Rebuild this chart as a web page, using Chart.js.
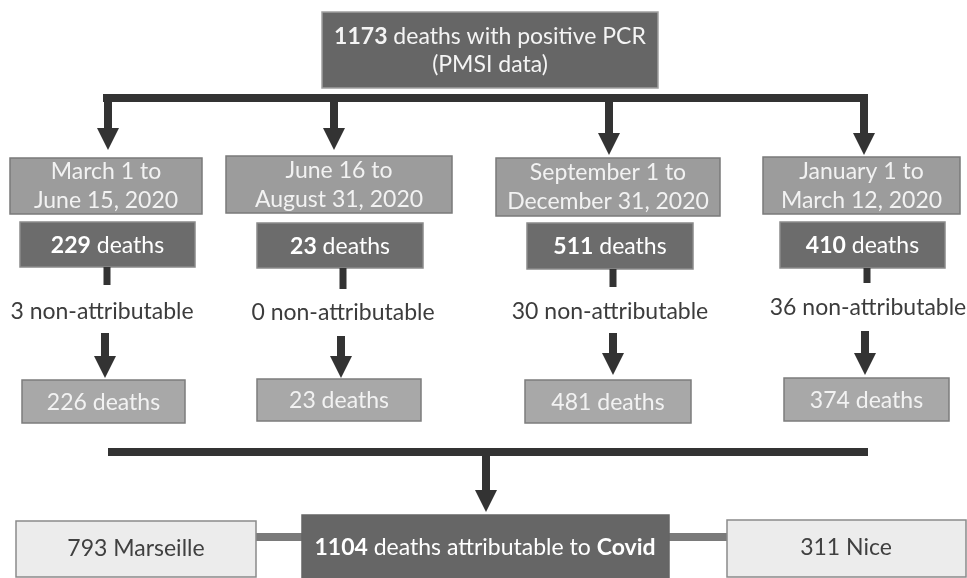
<!DOCTYPE html>
<html>
<head>
<meta charset="utf-8">
<script src="https://cdn.jsdelivr.net/npm/chart.js@4.4.1/dist/chart.umd.min.js"></script>
<style>
  html, body { margin: 0; padding: 0; background: #fff; }
  canvas { display: block; }
</style>
</head>
<body>
<canvas id="flow" width="967" height="578"></canvas>
<script>
// flowchart data
const totalPCR = 1173;
const periodStart = ['March 1 to', 'June 16 to', 'September 1 to', 'January 1 to'];
const periodEnd = ['June 15, 2020', 'August 31, 2020', 'December 31, 2020', 'March 12, 2020'];
const deaths = [229, 23, 511, 410];
const nonAttributable = [3, 0, 30, 36];
const attributable = [226, 23, 481, 374];
const totalAttributable = 1104;
const cities = ['Marseille', 'Nice'];
const cityDeaths = [793, 311];

// layout in picture units (rects are x1, y1, x2, y2)
const cols = [
  { x: 108, tip: 150, period: [10, 158, 202, 214], death: [20, 222, 195, 267], stub: [107, 267, 285], label: [102, 312], arrow: [105, 333, 378], result: [22, 380, 185, 423] },
  { x: 334, tip: 150, period: [226, 156, 452, 213], death: [257, 223, 423, 268], stub: [343, 268, 289], label: [343, 313], arrow: [341, 336, 378], result: [257, 379, 421, 421] },
  { x: 609, tip: 155, period: [496, 158, 720, 216], death: [527, 223, 693, 269], stub: [613, 269, 287], label: [610, 312], arrow: [613, 333, 375], result: [525, 380, 691, 423] },
  { x: 864, tip: 155, period: [763, 157, 960, 214], death: [780, 222, 945, 268], stub: [867, 268, 283], label: [868, 308], arrow: [865, 331, 375], result: [784, 378, 949, 421] }
];

const FONT = 'Lato, "Open Sans", sans-serif';
const INK = '#333333';

// draws boxes, arrows and text on the chart's own scales
const flowPlugin = {
  id: 'flow',
  afterDraw(chart) {
    const ctx = chart.ctx;
    const xs = chart.scales.x, ys = chart.scales.y;
    const px = v => xs.getPixelForValue(v);
    const py = v => ys.getPixelForValue(v);

    function box(r, fill, stroke) {
      const x1 = px(r[0]), y1 = py(r[1]), x2 = px(r[2]), y2 = py(r[3]);
      ctx.fillStyle = fill;
      ctx.fillRect(x1, y1, x2 - x1, y2 - y1);
      ctx.strokeStyle = stroke;
      ctx.lineWidth = 1.5;
      ctx.strokeRect(x1, y1, x2 - x1, y2 - y1);
    }
    function bar(x1, y1, x2, y2, color) {
      ctx.fillStyle = color;
      ctx.fillRect(px(x1), py(y1), px(x2) - px(x1), py(y2) - py(y1));
    }
    function arrow(cx, y0, y1) {
      const headH = 22, headW = 22, shaft = 8;
      ctx.fillStyle = INK;
      ctx.fillRect(px(cx) - shaft / 2, py(y0), shaft, py(y1 - headH) - py(y0) + 1);
      ctx.beginPath();
      ctx.moveTo(px(cx) - headW / 2, py(y1 - headH));
      ctx.lineTo(px(cx) + headW / 2, py(y1 - headH));
      ctx.lineTo(px(cx), py(y1));
      ctx.closePath();
      ctx.fill();
    }
    // parts: [[text, bold], ...]
    function rich(parts, cx, cy, color, size) {
      size = size || 23;
      ctx.textBaseline = 'middle';
      ctx.textAlign = 'left';
      ctx.fillStyle = color;
      let w = 0;
      parts.forEach(p => {
        ctx.font = (p[1] ? 'bold ' : '') + size + 'px ' + FONT;
        w += ctx.measureText(p[0]).width;
      });
      let x = px(cx) - w / 2;
      parts.forEach(p => {
        ctx.font = (p[1] ? 'bold ' : '') + size + 'px ' + FONT;
        ctx.fillText(p[0], x, py(cy));
        x += ctx.measureText(p[0]).width;
      });
    }

    ctx.save();

    // top box
    box([322, 12, 658, 88], '#666666', '#a0a0a0');
    rich([[String(totalPCR), true], [' deaths with positive PCR', false]], 490, 37, '#f4f4f4');
    rich([['(PMSI data)', false]], 490, 65, '#f4f4f4');

    // top bracket
    bar(103, 94, 868, 102, INK);
    cols.forEach(c => arrow(c.x, 98, c.tip));

    cols.forEach((c, i) => {
      box(c.period, '#9c9c9c', '#7a7a7a');
      const mid = (c.period[0] + c.period[2]) / 2;
      const cy = (c.period[1] + c.period[3]) / 2;
      rich([[periodStart[i], false]], mid, cy - 14, '#f2f2f2');
      rich([[periodEnd[i], false]], mid, cy + 15, '#f2f2f2');

      box(c.death, '#6c6c6c', '#8a8a8a');
      rich([[String(deaths[i]), true], [' deaths', false]],
        (c.death[0] + c.death[2]) / 2, (c.death[1] + c.death[3]) / 2 + 1, '#ffffff');

      bar(c.stub[0] - 3.5, c.stub[1], c.stub[0] + 3.5, c.stub[2], INK);
      rich([[nonAttributable[i] + ' non-attributable', false]], c.label[0], c.label[1], '#3c3c3c');
      arrow(c.arrow[0], c.arrow[1], c.arrow[2]);

      box(c.result, '#a8a8a8', '#7c7c7c');
      rich([[attributable[i] + ' deaths', false]],
        (c.result[0] + c.result[2]) / 2, (c.result[1] + c.result[3]) / 2 + 1, '#f2f2f2');
    });

    // bottom bracket
    bar(108, 448, 868, 456, INK);
    arrow(486, 452, 512);

    // connectors and bottom boxes
    bar(256, 533, 302, 541, '#7a7a7a');
    bar(669, 533, 727, 541, '#7a7a7a');
    box([16, 521, 256, 577], '#ececec', '#8a8a8a');
    box([727, 520, 966, 577], '#ececec', '#8a8a8a');
    box([302, 515, 669, 579], '#666666', '#666666');
    rich([[cityDeaths[0] + ' ' + cities[0], false]], 136, 549, '#404040');
    rich([[cityDeaths[1] + ' ' + cities[1], false]], 846, 548, '#404040');
    rich([[String(totalAttributable), true], [' deaths attributable to ', false], ['Covid', true]], 485, 548, '#ffffff');

    ctx.restore();
  }
};

new Chart(document.getElementById('flow'), {
  type: 'scatter',
  data: { datasets: [{ data: [], pointRadius: 0 }] },
  options: {
    responsive: false,
    devicePixelRatio: 1,
    animation: false,
    layout: { padding: 0 },
    plugins: { legend: { display: false }, tooltip: { enabled: false } },
    scales: {
      x: { type: 'linear', min: 0, max: 967, display: false },
      y: { type: 'linear', min: 0, max: 578, reverse: true, display: false }
    }
  },
  plugins: [flowPlugin]
});
</script>
</body>
</html>
